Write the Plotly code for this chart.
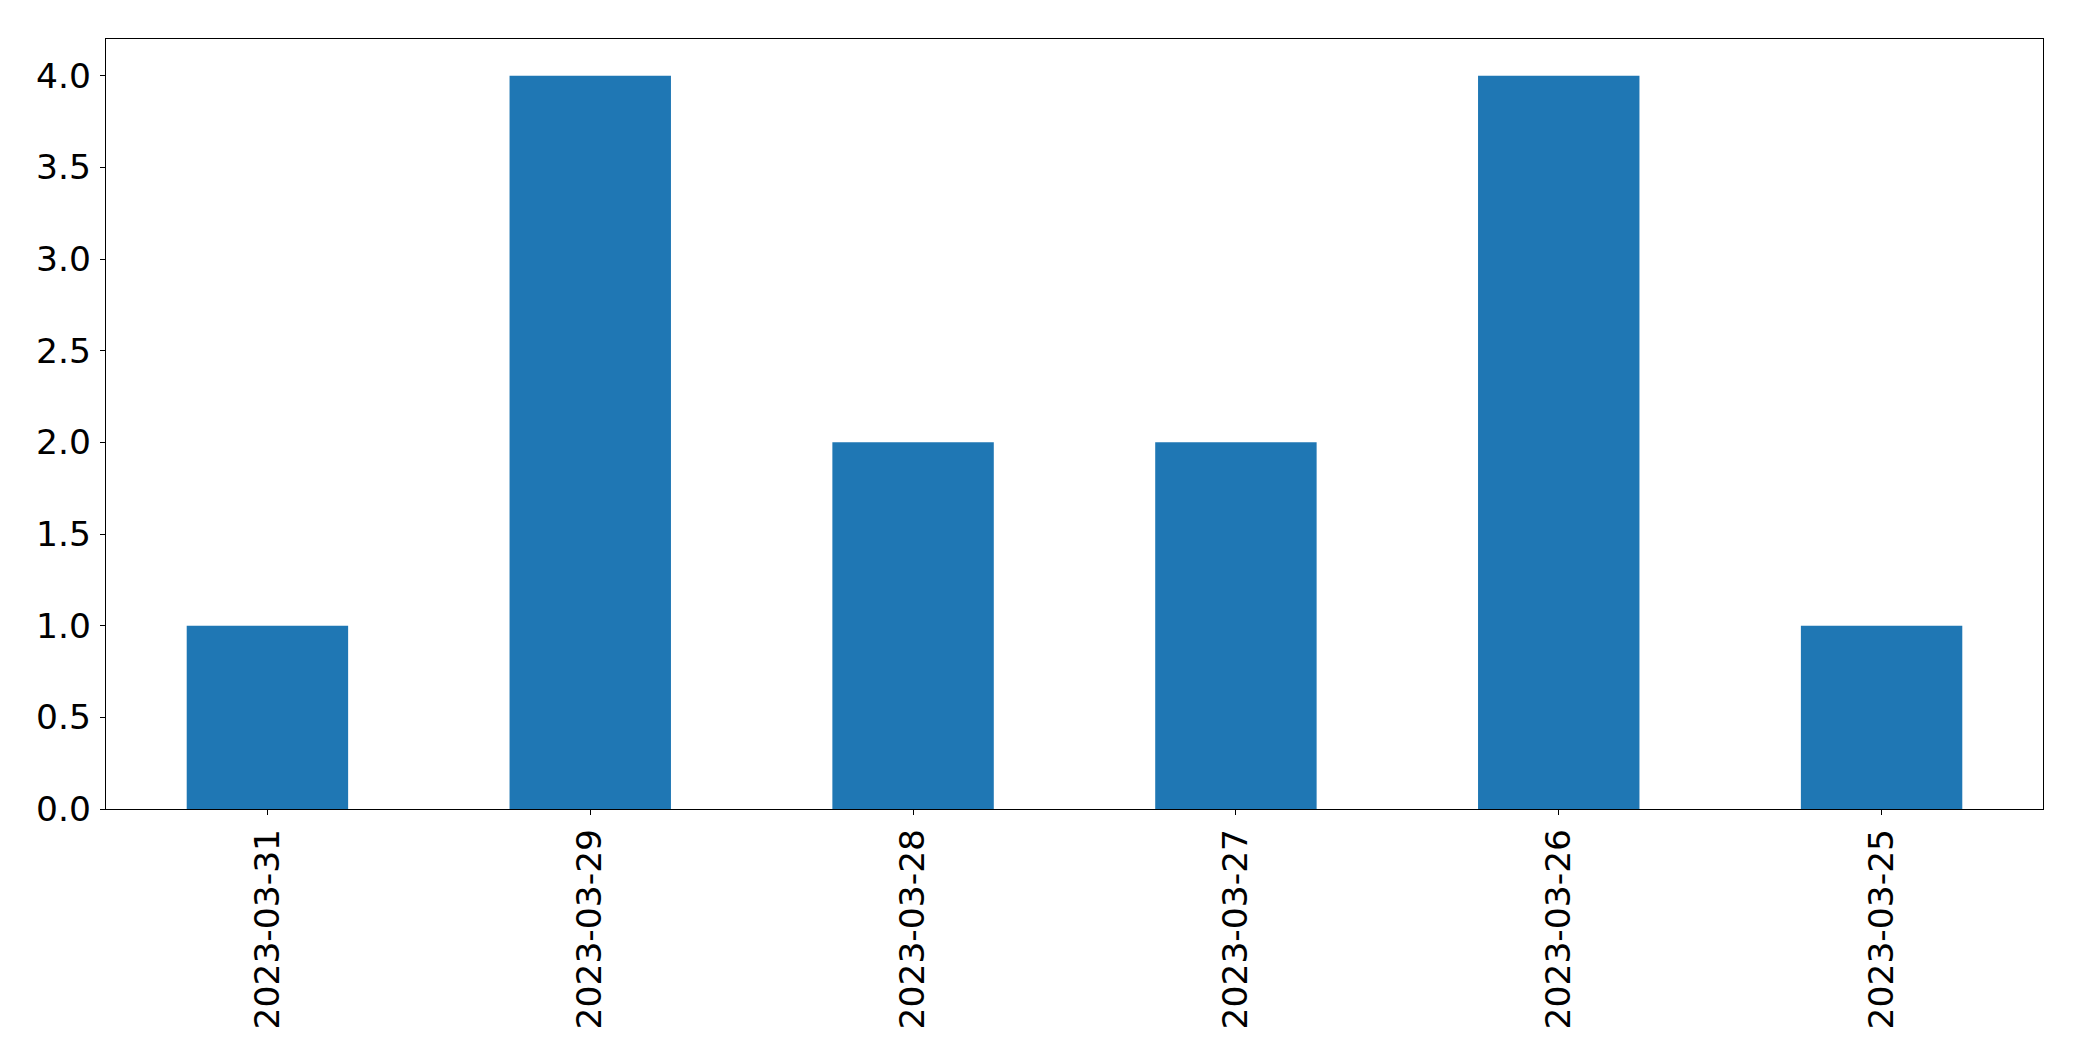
import plotly.graph_objects as go

categories = ["2023-03-31", "2023-03-29", "2023-03-28", "2023-03-27", "2023-03-26", "2023-03-25"]
values = [1, 4, 2, 2, 4, 1]
y_ticks = [0.0, 0.5, 1.0, 1.5, 2.0, 2.5, 3.0, 3.5, 4.0]
y_tick_labels = ["0.0", "0.5", "1.0", "1.5", "2.0", "2.5", "3.0", "3.5", "4.0"]

# page body has an 8px margin; compensate so the plot area lands where the reference has it
W, H = 2066, 1045
ml, mr, mt, mb = 97.7, 30.7, 31.3, 243.7

fig = go.Figure(go.Bar(
    x=list(range(len(categories))), y=values,
    width=0.5, marker=dict(color="#1f77b4", line=dict(width=0)),
))

font = dict(family="DejaVu Sans", size=34.5, color="black")
fig.update_layout(
    width=W, height=H, autosize=False,
    margin=dict(l=ml, r=mr, t=mt, b=mb, pad=0),
    paper_bgcolor="white", plot_bgcolor="white",
    showlegend=False, font=font,
    xaxis=dict(
        range=[-0.5, 5.5], tickmode="array",
        tickvals=list(range(len(categories))), ticktext=categories,
        tickangle=-90, ticks="outside", ticklen=5, tickwidth=1.3, tickcolor="black",
        showline=True, linecolor="black", linewidth=1.3, mirror=True,
        showgrid=False, zeroline=False, tickfont=font, ticklabelstandoff=0,
    ),
    yaxis=dict(
        range=[0, 4.2], tickmode="array", tickvals=y_ticks, ticktext=y_tick_labels,
        ticks="outside", ticklen=5, tickwidth=1.3, tickcolor="black",
        showline=True, linecolor="black", linewidth=1.3, mirror=True,
        showgrid=False, zeroline=False, tickfont=font, ticklabelstandoff=2,
    ),
)

fig.write_html("out.html")
